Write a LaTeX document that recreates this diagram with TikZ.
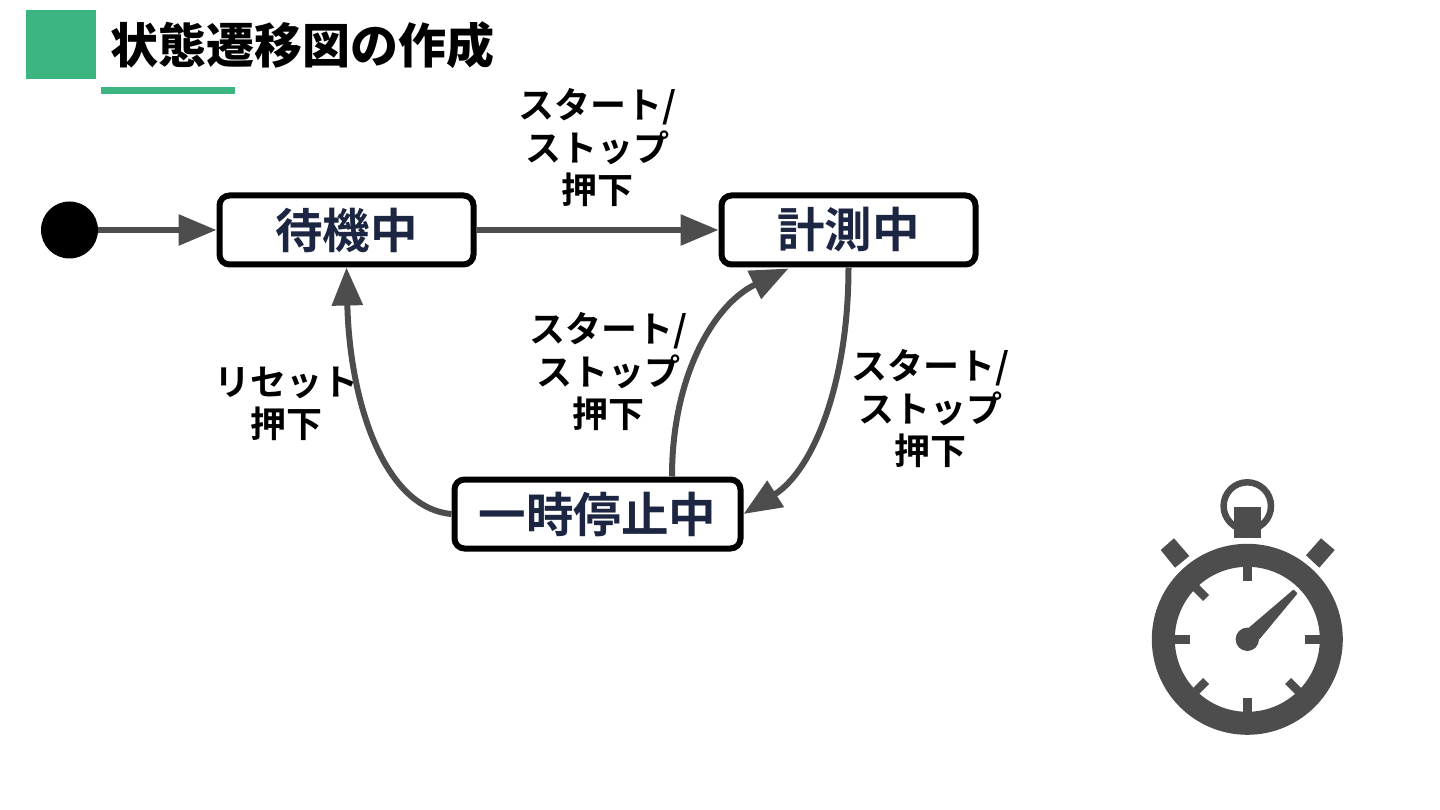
\documentclass[tikz,border=0pt]{standalone}
\usepackage{fontspec}
\usetikzlibrary{arrows.meta}
\newfontfamily\jpbold{Noto Sans CJK JP Bold}
\newfontfamily\jpblack{Noto Sans CJK JP Black}
\definecolor{grn}{HTML}{3CB581}
\definecolor{gry}{HTML}{4D4D4D}
\definecolor{nvy}{HTML}{1C2541}
\tikzset{
  state/.style={draw=black,line width=6pt,rounded corners=10pt,fill=white,text=nvy,inner sep=0pt,minimum height=69pt,font=\jpbold\fontsize{47.5}{47.5}\selectfont},
  lbl/.style={align=center,text=black,inner sep=0pt,font=\jpbold\fontsize{36}{42.5}\selectfont},
  conn/.style={draw=gry,line width=6pt,-{Triangle[length=38pt,width=30pt]},shorten >=0pt},
  tickm/.style={draw=gry,line width=8.5pt},
}
\begin{document}
\begin{tikzpicture}[x=1pt,y=-1pt]
\useasboundingbox (0,0) rectangle (1440,810);
% header
\fill[grn] (26,10) rectangle (96,79);
\fill[grn] (101,87) rectangle (235,94);
\node[anchor=west,inner sep=0pt,font=\jpblack\fontsize{48}{48}\selectfont] (title) at (110,45) {状態遷移図の作成};
% states
\node[circle,fill=black,minimum size=57pt,inner sep=0pt] (init) at (69.5,230) {};
\node[state,minimum width=254pt] (idle) at (346.5,230) {待機中};
\node[state,minimum width=254pt] (run) at (848.5,230) {計測中};
\node[state,minimum width=286pt] (pause) at (597.5,514) {一時停止中};
% connectors
\draw[conn] (init.east) -- (idle.west);
\draw[conn] (idle.east) -- (run.west);
\draw[conn] (pause.west) .. controls +(-68,-6) and +(3,133) .. (idle.south);
\draw[conn] ([xshift=74.5pt]pause.north) .. controls +(0,-100) and +(-75,36) .. ([xshift=-60pt,yshift=-1pt]run.south);
\draw[conn] (run.south) .. controls +(0,115) and +(70,-44) .. (pause.east);
% labels
\node[lbl] (l1) at (597,148) {スタート/\\ストップ\\押下};
\node[lbl] (l2) at (608,372) {スタート/\\ストップ\\押下};
\node[lbl] (l3) at (930,409) {スタート/\\ストップ\\押下};
\node[lbl] (l4) at (286,404) {リセット\\押下};
% stopwatch
\fill[gry,even odd rule] (1247.3,639.3) circle (95.5) (1247.3,639.3) circle (72.5);
\draw[gry,line width=6.5pt] (1247.3,506) circle (23.7);
\fill[gry] (1234,506.7) rectangle (1260.7,538.3);
\fill[gry] (1174,538.3) -- (1189.3,556) -- (1175,567.7) -- (1160.7,550) -- cycle;
\fill[gry] (1321,538.3) -- (1334.7,550) -- (1319.3,567.7) -- (1306,555.3) -- cycle;
\draw[tickm] (1247.3,565) -- (1247.3,581);
\draw[tickm] (1247.3,698) -- (1247.3,714);
\draw[tickm] (1173,639.3) -- (1189.5,639.3);
\draw[tickm] (1305,639.3) -- (1321,639.3);
\draw[gry,line width=8.5pt] (1195,587) -- (1206,598);
\draw[gry,line width=8.5pt] (1195,692) -- (1206,681) (1299,692) -- (1288,681);
\fill[gry] (1247.3,639.3) circle (11.7);
\fill[gry,line join=round,draw=gry,line width=1.5pt] (1249.3,628.3) -- (1293.5,590.5) -- (1296.5,593.5) -- (1259.3,638.3) -- cycle;
\end{tikzpicture}
\end{document}
